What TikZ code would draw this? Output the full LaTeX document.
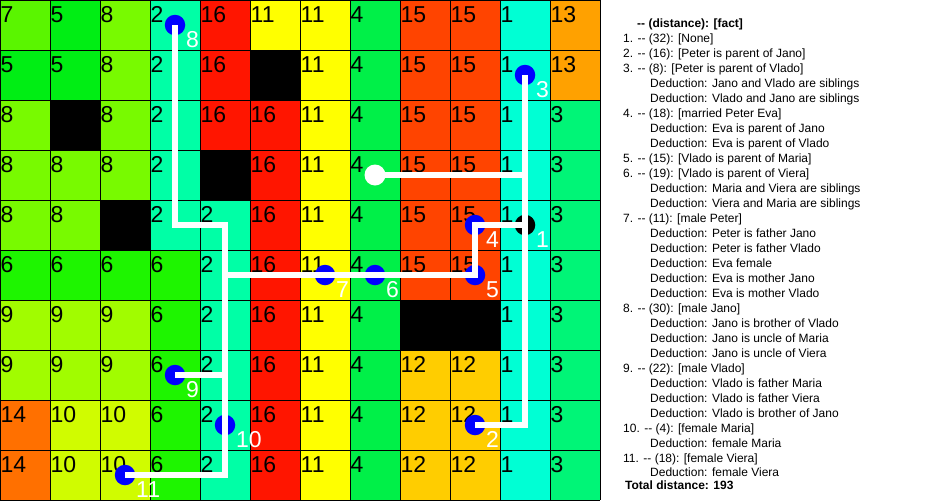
\documentclass[tikz,border=0pt]{standalone}
\usepackage{fontspec}
\setmainfont{Liberation Sans}
\definecolor{v0}{RGB}{0,0,0}
\definecolor{v1}{RGB}{0,255,212}
\definecolor{v2}{RGB}{0,255,166}
\definecolor{v3}{RGB}{0,245,119}
\definecolor{v4}{RGB}{0,240,72}
\definecolor{v5}{RGB}{0,238,20}
\definecolor{v6}{RGB}{30,245,0}
\definecolor{v7}{RGB}{90,245,0}
\definecolor{v8}{RGB}{120,250,0}
\definecolor{v9}{RGB}{161,252,0}
\definecolor{v10}{RGB}{208,252,0}
\definecolor{v11}{RGB}{255,255,0}
\definecolor{v12}{RGB}{255,205,0}
\definecolor{v13}{RGB}{255,161,0}
\definecolor{v14}{RGB}{255,112,0}
\definecolor{v15}{RGB}{255,68,0}
\definecolor{v16}{RGB}{255,21,0}
\begin{document}
\begin{tikzpicture}[x=1pt,y=-1pt,
  cellnum/.style={anchor=base west, inner sep=0pt, font=\fontsize{23}{23}\selectfont, text=black},
  pathline/.style={draw=white, line width=5.5pt},
  stopdot/.style={circle, fill=blue, minimum size=20.5pt, inner sep=0pt},
  startdot/.style={circle, fill=white, minimum size=21pt, inner sep=0pt},
  firstdot/.style={circle, fill=black, minimum size=20.5pt, inner sep=0pt},
  lbl/.style={anchor=base west, inner sep=0pt, font=\fontsize{23}{23}\selectfont, text=white},
  info/.style={anchor=base west, inner sep=0pt, font=\fontsize{12}{12}\selectfont, text=black},
  infob/.style={info, font=\fontsize{12}{12}\selectfont\bfseries},
]
\useasboundingbox[fill=white] (0,0) rectangle (950,501);
% cells
\foreach \row [count=\r from 0] in {
  {7,5,8,2,16,11,11,4,15,15,1,13},
  {5,5,8,2,16,0,11,4,15,15,1,13},
  {8,0,8,2,16,16,11,4,15,15,1,3},
  {8,8,8,2,0,16,11,4,15,15,1,3},
  {8,8,0,2,2,16,11,4,15,15,1,3},
  {6,6,6,6,2,16,11,4,15,15,1,3},
  {9,9,9,6,2,16,11,4,0,0,1,3},
  {9,9,9,6,2,16,11,4,12,12,1,3},
  {14,10,10,6,2,16,11,4,12,12,1,3},
  {14,10,10,6,2,16,11,4,12,12,1,3}} {
  \foreach \v [count=\c from 0] in \row {
    \fill[v\v] (50*\c,50*\r) rectangle ++(50,50);
    \ifnum\v>0 \node[cellnum] (n\c-\r) at (50*\c+0.5,50*\r+22.5) {\v};\fi
  }
}
% grid lines
\foreach \i in {0,...,12} \draw[line width=1pt] (50*\i,0) -- (50*\i,500);
\foreach \j in {0,...,10} \draw[line width=1pt] (0,50*\j) -- (600,50*\j);
% dots
\node[startdot] (s) at (375,175) {};
\node[firstdot] (d1) at (525,225) {};
\node[stopdot] (d2) at (475,425) {};
\node[stopdot] (d3) at (525,75) {};
\node[stopdot] (d4) at (475,225) {};
\node[stopdot] (d5) at (475,275) {};
\node[stopdot] (d6) at (375,275) {};
\node[stopdot] (d7) at (325,275) {};
\node[stopdot] (d8) at (175,25) {};
\node[stopdot] (d9) at (175,375) {};
\node[stopdot] (d10) at (225,425) {};
\node[stopdot] (d11) at (125,475) {};
\coordinate (k1) at (525,175);
\coordinate (k2) at (525,425);
\coordinate (k3) at (225,275);
\coordinate (k4) at (225,225);
\coordinate (k5) at (175,225);
\coordinate (k6) at (225,375);
\coordinate (k7) at (225,475);
% path
\draw[pathline] (s.center) -- (k1);
\draw[pathline] (d3.center) -- (k2) -- (d2.center);
\draw[pathline] (d1.center) -- (d4.center) -- (d5.center) -- (d6.center) -- (d7.center) -- (k3) -- (k4) -- (k5) -- (d8.center);
\draw[pathline] (k3) -- (k7) -- (d11.center);
\draw[pathline] (k6) -- (d9.center);
% labels
\foreach \d/\t in {d1/1,d2/2,d3/3,d4/4,d5/5,d6/6,d7/7,d8/8,d9/9,d10/10,d11/11}
  \node[lbl] (l\t) at ([shift={(11,22)}]\d.center) {\t};
% text panel
\node[infob] (h) at (637,27) {-{}- (distance): [fact]};
\node[info] (t0) at (623,42) {1. -{}- (32): [None]};
\node[info] (t1) at (623,57) {2. -{}- (16): [Peter is parent of Jano]};
\node[info] (t2) at (623,72) {3. -{}- (8): [Peter is parent of Vlado]};
\node[info] (t3) at (650,87) {Deduction: Jano and Vlado are siblings};
\node[info] (t4) at (650,102) {Deduction: Vlado and Jano are siblings};
\node[info] (t5) at (623,117) {4. -{}- (18): [married Peter Eva]};
\node[info] (t6) at (650,132) {Deduction: Eva is parent of Jano};
\node[info] (t7) at (650,147) {Deduction: Eva is parent of Vlado};
\node[info] (t8) at (623,162) {5. -{}- (15): [Vlado is parent of Maria]};
\node[info] (t9) at (623,177) {6. -{}- (19): [Vlado is parent of Viera]};
\node[info] (t10) at (650,192) {Deduction: Maria and Viera are siblings};
\node[info] (t11) at (650,207) {Deduction: Viera and Maria are siblings};
\node[info] (t12) at (623,222) {7. -{}- (11): [male Peter]};
\node[info] (t13) at (650,237) {Deduction: Peter is father Jano};
\node[info] (t14) at (650,252) {Deduction: Peter is father Vlado};
\node[info] (t15) at (650,267) {Deduction: Eva female};
\node[info] (t16) at (650,282) {Deduction: Eva is mother Jano};
\node[info] (t17) at (650,297) {Deduction: Eva is mother Vlado};
\node[info] (t18) at (623,312) {8. -{}- (30): [male Jano]};
\node[info] (t19) at (650,327) {Deduction: Jano is brother of Vlado};
\node[info] (t20) at (650,342) {Deduction: Jano is uncle of Maria};
\node[info] (t21) at (650,357) {Deduction: Jano is uncle of Viera};
\node[info] (t22) at (623,372) {9. -{}- (22): [male Vlado]};
\node[info] (t23) at (650,387) {Deduction: Vlado is father Maria};
\node[info] (t24) at (650,402) {Deduction: Vlado is father Viera};
\node[info] (t25) at (650,417) {Deduction: Vlado is brother of Jano};
\node[info] (t26) at (623,432) {10. -{}- (4): [female Maria]};
\node[info] (t27) at (650,447) {Deduction: female Maria};
\node[info] (t28) at (623,462) {11. -{}- (18): [female Viera]};
\node[info] (t29) at (650,476.5) {Deduction: female Viera};
\node[infob] (tot) at (625,489) {Total distance: 193};
\end{tikzpicture}
\end{document}
